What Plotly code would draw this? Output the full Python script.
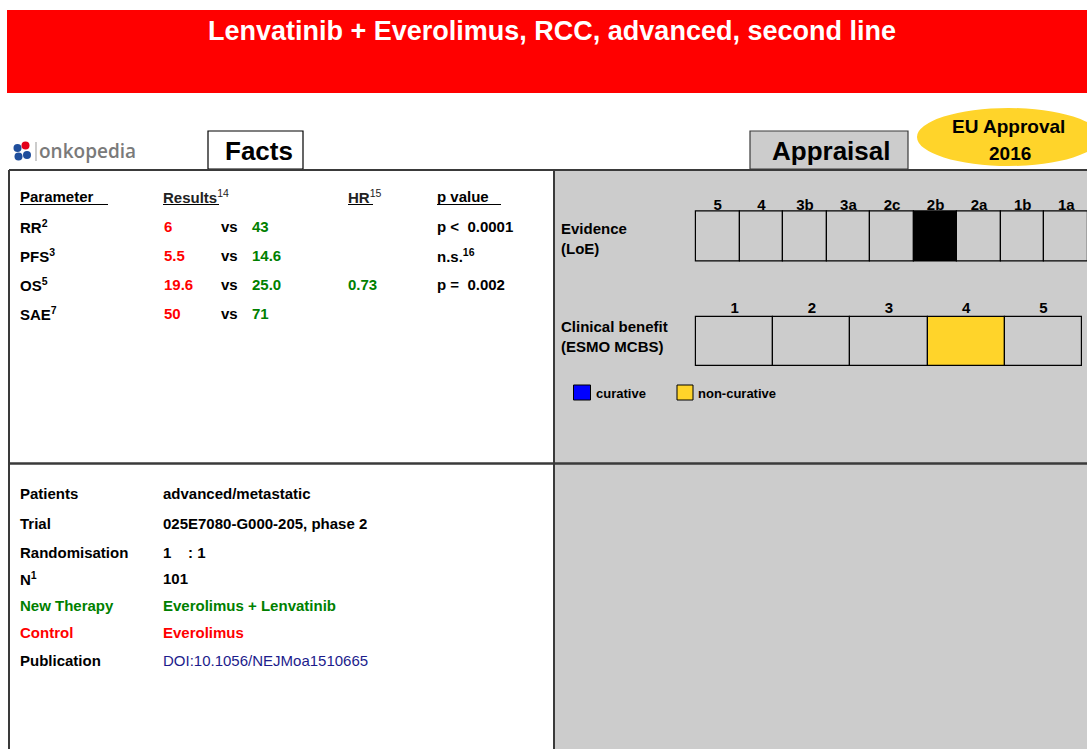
import plotly.graph_objects as go

W, H = 1087, 749
FONT = "Liberation Sans, Arial, sans-serif"
RED = "#ff0000"
GREEN = "#008000"
GRAY = "#cccccc"
YELLOW = "#ffd42a"
FRAME = "#3a3a3a"

title = "Lenvatinib + Everolimus, RCC, advanced, second line"

# Facts table
params = ["RR<sup>2</sup>", "PFS<sup>3</sup>", "OS<sup>5</sup>", "SAE<sup>7</sup>"]
control_vals = ["6", "5.5", "19.6", "50"]
therapy_vals = ["43", "14.6", "25.0", "71"]
hr_vals = ["", "", "0.73", ""]
p_vals = ["p <  0.0001", "n.s.<sup>16</sup>", "p =  0.002", ""]

# Study info
info_labels = ["Patients", "Trial", "Randomisation", "N<sup>1</sup>", "New Therapy", "Control", "Publication"]
info_values = ["advanced/metastatic", "025E7080-G000-205, phase 2", "1    : 1", "101",
               "Everolimus + Lenvatinib", "Everolimus", "DOI:10.1056/NEJMoa1510665"]
info_label_colors = ["black", "black", "black", "black", GREEN, RED, "black"]
info_value_colors = ["black", "black", "black", "black", GREEN, RED, "#1c1c8c"]

# Appraisal
loe_levels = ["5", "4", "3b", "3a", "2c", "2b", "2a", "1b", "1a"]
loe_selected = "2b"
mcbs_levels = ["1", "2", "3", "4", "5"]
mcbs_selected = "4"
approval_lines = ["EU Approval", "2016"]

fig = go.Figure()

fig.add_trace(go.Scatter(x=[0, W], y=[0, H], mode="markers", marker=dict(opacity=0),
                         hoverinfo="skip", showlegend=False, xaxis="x", yaxis="y"))

fig.add_trace(go.Bar(
    x=loe_levels, y=[1] * len(loe_levels), width=1,
    marker=dict(color=["black" if l == loe_selected else GRAY for l in loe_levels],
                line=dict(color="black", width=1.2)),
    xaxis="x2", yaxis="y2", showlegend=False, hoverinfo="skip"))

fig.add_trace(go.Bar(
    x=mcbs_levels, y=[1] * len(mcbs_levels), width=1,
    marker=dict(color=[YELLOW if l == mcbs_selected else GRAY for l in mcbs_levels],
                line=dict(color="black", width=1.2)),
    xaxis="x3", yaxis="y3", showlegend=False, hoverinfo="skip"))

shapes = []
ann = []

def txt(x, y, text, size=15, color="black", bold=True, xanchor="left", yanchor="middle",
        family=FONT, weight=None):
    t = f"<b>{text}</b>" if bold else text
    f = dict(family=family, size=size, color=color)
    if weight:
        f["weight"] = weight
    ann.append(dict(x=x, y=y, xref="x", yref="y", text=t, showarrow=False,
                    xanchor=xanchor, yanchor=yanchor, align="left" if xanchor == "left" else "center",
                    borderpad=0, borderwidth=0, font=f))

def rect(x0, y0, x1, y1, fill=None, line=None, lw=1.5, layer="below"):
    shapes.append(dict(type="rect", xref="x", yref="y", x0=x0, y0=y0, x1=x1, y1=y1,
                       fillcolor=fill if fill else "rgba(0,0,0,0)",
                       line=dict(color=line if line else "rgba(0,0,0,0)", width=lw if line else 0),
                       layer=layer))

def line(x0, y0, x1, y1, color=FRAME, lw=1.5, layer="above"):
    shapes.append(dict(type="line", xref="x", yref="y", x0=x0, y0=y0, x1=x1, y1=y1,
                       line=dict(color=color, width=lw), layer=layer))

# Banner
rect(7, 10, W + 5, 93, fill=RED)
txt(552, 31, title, size=27, color="white", xanchor="center")

# Logo
for cx, cy, r, c in [(17.5, 148, 4, "#1f4e9c"), (25.5, 145.5, 4, "#e3001b"),
                     (18.5, 156.5, 4, "#1f4e9c"), (27, 155, 4, "#1f4e9c")]:
    shapes.append(dict(type="circle", xref="x", yref="y", x0=cx - r, y0=cy - r, x1=cx + r, y1=cy + r,
                       fillcolor=c, line=dict(width=0), layer="above"))
line(36, 142, 36, 161, color="#999999", lw=1)
txt(39, 151, "onkopedia", size=19, color="#7a7a7a", bold=False,
    family="Open Sans, Liberation Sans, sans-serif", weight=600)

# Right gray panel
rect(554, 170, W + 5, H + 5, fill=GRAY)

# Facts box
rect(208, 131, 303, 169, fill="white", line="black", lw=1.2)
txt(258.5, 151, "Facts", size=26, xanchor="center")

# Appraisal box
rect(750, 131, 908, 169, fill=GRAY, line=FRAME, lw=1.2)
txt(831, 151, "Appraisal", size=26, xanchor="center")

# EU approval ellipse
shapes.append(dict(type="circle", xref="x", yref="y", x0=917, y0=108, x1=1100, y1=166,
                   fillcolor=YELLOW, line=dict(width=0), layer="below"))
txt(1008.5, 126, approval_lines[0], size=19, xanchor="center")
txt(1010, 153, approval_lines[1], size=19, xanchor="center")

# Frame lines
line(9, 170, W + 5, 170, lw=2)
line(9, 170, 9, H + 5, lw=2)
line(554, 170, 554, H + 5, lw=2)
line(9, 463.5, W + 5, 463.5, lw=2.5)

# Table header
txt(20, 196, "Parameter")
txt(163, 196, "<b>Results</b><sup>14</sup>", bold=False, color="#222222")
txt(348, 196, "<b>HR</b><sup>15</sup>", bold=False, color="#222222")
txt(437, 196, "p value")
for x0, x1 in [(20, 108), (163, 219), (348, 373), (437, 501)]:
    line(x0, 204.5, x1, 204.5, color="black", lw=1)

row_y = [226, 255, 284, 313]
for i, y in enumerate(row_y):
    txt(20, y, params[i])
    txt(164, y, control_vals[i], color=RED)
    txt(221, y, "vs")
    txt(252, y, therapy_vals[i], color=GREEN)
    if hr_vals[i]:
        txt(348, y, hr_vals[i], color=GREEN)
    if p_vals[i]:
        txt(437, y, p_vals[i])

info_y = [493, 523, 552, 578, 605, 632, 660]
for i, y in enumerate(info_y):
    txt(20, y, info_labels[i], color=info_label_colors[i])
    txt(163, y, info_values[i], color=info_value_colors[i], bold=(i != 6))

# Appraisal labels
txt(561, 238, "Evidence<br>(LoE)", size=15)
txt(561, 336, "Clinical benefit<br>(ESMO MCBS)", size=15)

# Legend
rect(573.5, 385, 590.5, 400, fill="#0000ff", line="black", lw=1, layer="above")
txt(596, 393, "curative", size=13)
rect(677, 385, 693, 400, fill=YELLOW, line="black", lw=1, layer="above")
txt(698, 393, "non-curative", size=13)

def py(p):
    return 1 - p / H

PAD = 4
loe_x0, loe_x1, loe_y0, loe_y1 = 696, 1088, 211.5, 261.5
mc_x0, mc_x1, mc_y0, mc_y1 = 696, 1082, 317, 365.5

def axis_pad(n, x0, x1):
    cw = (x1 - x0) / n
    p = PAD / cw
    return [-0.5 - p, n - 0.5 + p], [(x0 - PAD) / W, min(1, (x1 + PAD) / W)]

def yaxis_pad(y0, y1):
    h = y1 - y0
    p = PAD / h
    return [-p, 1 + p], [py(y1 + PAD), py(y0 - PAD)]

loe_xr, loe_xd = axis_pad(len(loe_levels), loe_x0, loe_x1)
mc_xr, mc_xd = axis_pad(len(mcbs_levels), mc_x0, mc_x1)
loe_yr, loe_yd = yaxis_pad(loe_y0, loe_y1)
mc_yr, mc_yd = yaxis_pad(mc_y0, mc_y1)
cw_loe = (loe_x1 - loe_x0) / len(loe_levels)
loe_xr = [loe_xr[0], loe_xr[0] + (W - (loe_x0 - PAD)) / cw_loe]

tick_common = dict(type="category", showgrid=False, zeroline=False, showline=False, ticks="",
                   side="top", tickfont=dict(family=FONT, size=15, color="black"),
                   tickprefix="<b>", ticksuffix="</b>")

fig.update_layout(
    width=W, height=H, margin=dict(l=0, r=0, t=0, b=0),
    paper_bgcolor="white", plot_bgcolor="rgba(0,0,0,0)",
    bargap=0, showlegend=False,
    xaxis=dict(range=[0, W], domain=[0, 1], visible=False, fixedrange=True),
    yaxis=dict(range=[H, 0], domain=[0, 1], visible=False, fixedrange=True),
    xaxis2=dict(domain=loe_xd, anchor="y2", range=loe_xr, ticklabelstandoff=-PAD - 2, **tick_common),
    yaxis2=dict(domain=loe_yd, anchor="x2", range=loe_yr, visible=False),
    xaxis3=dict(domain=mc_xd, anchor="y3", range=mc_xr, ticklabelstandoff=-PAD, **tick_common),
    yaxis3=dict(domain=mc_yd, anchor="x3", range=mc_yr, visible=False),
    shapes=shapes, annotations=ann,
)

fig.write_html("out.html", config={"displayModeBar": False},
               post_script="document.body.style.margin='0';document.body.style.overflow='hidden';")
